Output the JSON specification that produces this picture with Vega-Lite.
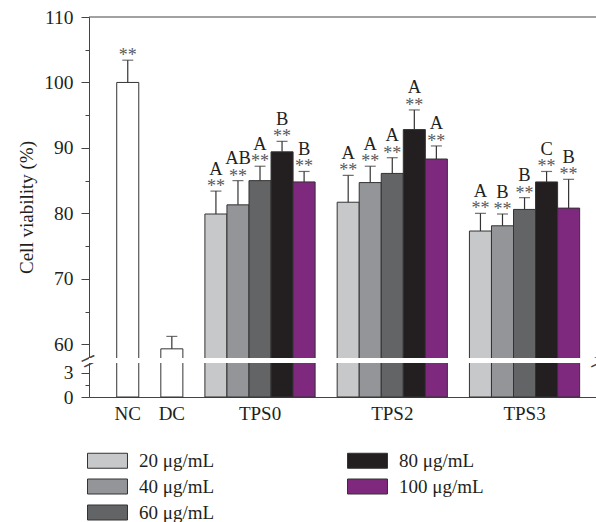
{
  "$schema": "https://vega.github.io/schema/vega-lite/v6.json",
  "width": 507,
  "height": 380,
  "autosize": {"type": "none"},
  "padding": {"left": 89, "top": 17, "right": 0, "bottom": 125},
  "config": {"view": {"stroke": null}, "font": "Liberation Serif"},
  "datasets": {
    "bars": [
      {"group": "NC", "slot": "NC", "conc": null, "mean": 100, "upper": 103.4, "stars": "**", "letter": ""},
      {"group": "DC", "slot": "DC", "conc": null, "mean": 59.3, "upper": 61.2, "stars": "", "letter": ""},
      {"group": "TPS0", "slot": "TPS0-20", "conc": "20 μg/mL", "mean": 79.9, "upper": 83.4, "stars": "**", "letter": "A"},
      {"group": "TPS0", "slot": "TPS0-40", "conc": "40 μg/mL", "mean": 81.3, "upper": 85.0, "stars": "**", "letter": "AB"},
      {"group": "TPS0", "slot": "TPS0-60", "conc": "60 μg/mL", "mean": 85.0, "upper": 87.2, "stars": "**", "letter": "A"},
      {"group": "TPS0", "slot": "TPS0-80", "conc": "80 μg/mL", "mean": 89.4, "upper": 91.0, "stars": "**", "letter": "B"},
      {"group": "TPS0", "slot": "TPS0-100", "conc": "100 μg/mL", "mean": 84.8, "upper": 86.4, "stars": "**", "letter": "B"},
      {"group": "TPS2", "slot": "TPS2-20", "conc": "20 μg/mL", "mean": 81.7, "upper": 85.8, "stars": "**", "letter": "A"},
      {"group": "TPS2", "slot": "TPS2-40", "conc": "40 μg/mL", "mean": 84.7, "upper": 87.2, "stars": "**", "letter": "A"},
      {"group": "TPS2", "slot": "TPS2-60", "conc": "60 μg/mL", "mean": 86.1, "upper": 88.5, "stars": "**", "letter": "A"},
      {"group": "TPS2", "slot": "TPS2-80", "conc": "80 μg/mL", "mean": 92.8, "upper": 95.8, "stars": "**", "letter": "A"},
      {"group": "TPS2", "slot": "TPS2-100", "conc": "100 μg/mL", "mean": 88.3, "upper": 90.3, "stars": "**", "letter": "A"},
      {"group": "TPS3", "slot": "TPS3-20", "conc": "20 μg/mL", "mean": 77.3, "upper": 80.0, "stars": "**", "letter": "A"},
      {"group": "TPS3", "slot": "TPS3-40", "conc": "40 μg/mL", "mean": 78.1, "upper": 79.9, "stars": "**", "letter": "B"},
      {"group": "TPS3", "slot": "TPS3-60", "conc": "60 μg/mL", "mean": 80.6, "upper": 82.4, "stars": "**", "letter": "B"},
      {"group": "TPS3", "slot": "TPS3-80", "conc": "80 μg/mL", "mean": 84.8, "upper": 86.4, "stars": "**", "letter": "C"},
      {"group": "TPS3", "slot": "TPS3-100", "conc": "100 μg/mL", "mean": 80.8, "upper": 85.2, "stars": "**", "letter": "B"}
    ]
  },
  "data": {"name": "bars"},
  "layer": [
    {
      "transform": [{"filter": "datum.conc != null"}],
      "mark": {"type": "bar", "stroke": "#333333", "strokeWidth": 1},
      "encoding": {
        "x": {
          "field": "slot", "type": "nominal",
          "scale": {"type": "band", "domain": ["NC", "gap1", "DC", "gap2", "TPS0-20", "TPS0-40", "TPS0-60", "TPS0-80", "TPS0-100", "gap3", "TPS2-20", "TPS2-40", "TPS2-60", "TPS2-80", "TPS2-100", "gap4", "TPS3-20", "TPS3-40", "TPS3-60", "TPS3-80", "TPS3-100"], "paddingInner": 0, "paddingOuter": 1.0227, "align": 0.629},
          "axis": {"orient": "bottom", "values": ["NC", "DC", "TPS0-60", "TPS2-60", "TPS3-60"], "labelExpr": "split(datum.value, '-')[0]", "ticks": false, "labelPadding": 7, "labelFontSize": 19, "labelColor": "#231f20", "domainColor": "#444444", "title": null, "labelAngle": 0, "grid": false}
        },
        "y": {
          "field": "mean", "type": "quantitative",
          "scale": {"domain": [0, 4.2, 57.9, 110], "range": [380, 346, 341, 0], "nice": false, "zero": false},
          "axis": {"orient": "left", "values": [0, 3, 60, 70, 80, 90, 100, 110], "title": "Cell viability (%)", "tickSize": 8, "labelPadding": 8, "domainColor": "#444444", "tickColor": "#444444", "labelFontSize": 19.5, "labelColor": "#231f20", "titleFontSize": 19, "titleFontWeight": "normal", "titleColor": "#231f20", "titlePadding": 7, "grid": false, "labelOverlap": false}
        },
        "y2": {"datum": 0},
        "color": {
          "field": "conc", "type": "nominal",
          "scale": {"domain": ["20 μg/mL", "40 μg/mL", "60 μg/mL", "80 μg/mL", "100 μg/mL"], "range": ["#c7c8ca", "#939598", "#636466", "#231f20", "#7e287e"]},
          "legend": {"orient": "none", "legendX": -8, "legendY": 434, "columns": 2, "title": null, "symbolType": "M-1,-2.5H12.33V2.5H-1Z", "symbolSize": 36, "symbolStrokeColor": "#333333", "symbolStrokeWidth": 1, "symbolOpacity": 1, "labelFontSize": 19, "labelFont": "Liberation Serif", "labelColor": "#231f20", "labelOffset": 39, "rowPadding": 6, "columnPadding": 126, "labelLimit": 200}
        }
      }
    },
    {
      "transform": [{"filter": "datum.conc == null"}],
      "mark": {"type": "bar", "fill": "white", "stroke": "#333333", "strokeWidth": 1},
      "encoding": {
        "x": {"field": "slot", "type": "nominal", "axis": null},
        "y": {"field": "mean", "type": "quantitative", "scale": {"domain": [0, 4.2, 57.9, 110], "range": [380, 346, 341, 0], "nice": false, "zero": false}, "axis": null},
        "y2": {"datum": 0}
      }
    },
    {
      "data": {"values": [{}]},
      "mark": {"type": "rect", "color": "white"},
      "encoding": {
        "y": {"datum": 4.2, "type": "quantitative", "scale": {"domain": [0, 4.2, 57.9, 110], "range": [380, 346, 341, 0], "nice": false, "zero": false},
          "axis": {"orient": "left", "values": [20], "labelExpr": "'='", "ticks": false, "tickSize": 0, "domain": false, "labelPadding": 0, "labelAlign": "center", "labelBaseline": "middle", "labelAngle": -25, "labelFontSize": 30, "labelColor": "#444444", "title": null, "grid": false}},
        "y2": {"datum": 57.9}
      }
    },
    {
      "mark": {"type": "rule", "color": "#333333", "strokeWidth": 1.2},
      "encoding": {
        "x": {"field": "slot", "type": "nominal", "axis": null},
        "y": {"field": "mean", "type": "quantitative", "scale": {"domain": [0, 4.2, 57.9, 110], "range": [380, 346, 341, 0], "nice": false, "zero": false},
          "axis": {"orient": "left", "values": [1.5, 65, 75, 85, 95, 105], "tickSize": 4, "labels": false, "domain": false, "title": null, "grid": false, "tickColor": "#444444"}},
        "y2": {"field": "upper"}
      }
    },
    {
      "mark": {"type": "tick", "color": "#333333", "thickness": 1.2, "size": 11, "orient": "horizontal"},
      "encoding": {
        "x": {"field": "slot", "type": "nominal", "axis": null},
        "y": {"field": "upper", "type": "quantitative", "scale": {"domain": [0, 4.2, 57.9, 110], "range": [380, 346, 341, 0], "nice": false, "zero": false}, "axis": null}
      }
    },
    {
      "mark": {"type": "text", "fontSize": 18, "color": "#58595b", "baseline": "alphabetic", "dy": 1},
      "encoding": {
        "x": {"field": "slot", "type": "nominal", "axis": null},
        "y": {"field": "upper", "type": "quantitative", "scale": {"domain": [0, 4.2, 57.9, 110], "range": [380, 346, 341, 0], "nice": false, "zero": false}, "axis": null},
        "text": {"field": "stars"}
      }
    },
    {
      "mark": {"type": "text", "fontSize": 18.5, "color": "#231f20", "baseline": "alphabetic", "dy": -16.5},
      "encoding": {
        "x": {"field": "slot", "type": "nominal", "axis": null},
        "y": {"field": "upper", "type": "quantitative", "scale": {"domain": [0, 4.2, 57.9, 110], "range": [380, 346, 341, 0], "nice": false, "zero": false}, "axis": null},
        "text": {"field": "letter"}
      }
    },
    {
      "data": {"values": [{}]},
      "mark": {"type": "rule", "color": "#444444", "strokeWidth": 1},
      "encoding": {
        "y": {"datum": 110, "type": "quantitative", "scale": {"domain": [0, 4.2, 57.9, 110], "range": [380, 346, 341, 0], "nice": false, "zero": false},
          "axis": {"orient": "right", "values": [20], "labelExpr": "'='", "ticks": false, "tickSize": 0, "domain": false, "labelPadding": 0, "labelAlign": "center", "labelBaseline": "middle", "labelAngle": -25, "labelFontSize": 30, "labelColor": "#444444", "title": null, "grid": false}}
      }
    }
  ],
  "resolve": {"axis": {"x": "independent", "y": "independent"}}
}
